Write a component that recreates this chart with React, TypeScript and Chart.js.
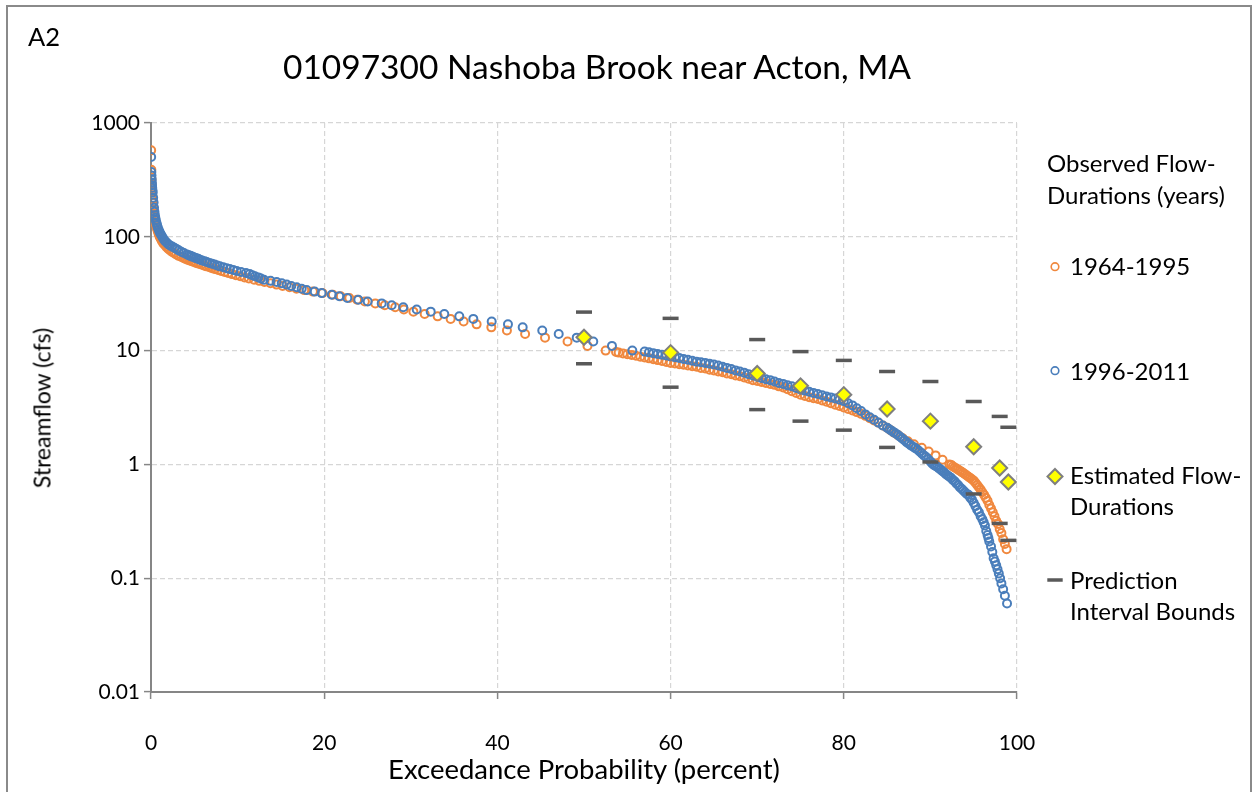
import { useEffect, useRef } from "react";
import { Chart, registerables } from "chart.js";

Chart.register(...registerables);

// Observed flow-duration points, 1964-1995: [exceedance probability (%), streamflow (cfs)]
const observed1964to1995: [number, number][] = [
  [0.02, 575], [0.04, 389], [0.06, 320], [0.08, 290], [0.1, 268], [0.12, 250], [0.15, 232], [0.18, 215],
  [0.22, 200], [0.26, 185], [0.3, 172], [0.35, 160], [0.4, 150], [0.46, 141], [0.52, 133], [0.6, 125],
  [0.68, 118], [0.78, 112], [0.88, 106], [1.0, 100], [1.12, 96], [1.25, 92], [1.4, 88], [1.57, 85],
  [1.75, 82], [1.95, 79], [2.15, 76.5], [2.4, 74], [2.65, 72], [2.9, 70], [3.2, 68], [3.5, 66.5],
  [3.8, 65], [4.0, 64], [4.2, 63], [4.45, 62], [4.7, 61], [4.95, 60], [5.2, 59], [5.5, 58], [5.8, 57],
  [6.1, 56], [6.4, 55], [6.75, 54], [7.05, 53], [7.4, 52], [7.75, 51], [8.1, 50], [8.5, 49], [8.9, 48],
  [9.35, 47], [9.8, 46], [10.3, 45], [10.8, 44], [11.3, 43], [11.9, 42], [12.5, 41], [13.1, 40],
  [13.8, 39], [14.5, 38], [15.2, 37], [16.0, 36], [16.8, 35], [17.7, 34], [18.7, 33], [19.8, 32],
  [21.0, 31], [21.9, 30], [22.9, 29], [23.8, 28], [24.7, 27], [25.9, 26], [27.0, 25], [28.2, 24],
  [29.2, 23], [30.3, 22], [31.6, 21], [33.1, 20], [34.6, 19], [36.1, 18], [37.6, 17], [39.3, 16],
  [41.1, 15], [43.2, 14], [45.5, 13], [48.1, 12], [50.4, 11], [52.5, 10],
  [53.7, 9.72], [54.0, 9.6], [54.5, 9.45], [55.0, 9.3], [55.5, 9.15], [56.0, 9.0], [56.5, 8.85],
  [57.0, 8.7], [57.5, 8.55], [58.0, 8.4], [58.5, 8.25], [59.0, 8.1], [59.5, 7.95], [60.0, 7.8],
  [60.5, 7.7], [61.0, 7.6], [61.5, 7.5], [62.0, 7.4], [62.5, 7.3], [63.0, 7.2], [63.5, 7.05],
  [64.0, 6.95], [64.5, 6.8], [65.0, 6.7], [65.5, 6.55], [66.0, 6.45], [66.5, 6.3], [67.0, 6.2],
  [67.5, 6.05], [68.0, 5.95], [68.5, 5.8], [69.0, 5.65], [69.5, 5.5], [70.0, 5.4], [70.5, 5.3],
  [71.0, 5.2], [71.5, 5.1], [72.0, 5.0], [72.5, 4.85], [73.0, 4.75], [73.5, 4.58], [74.0, 4.4],
  [74.5, 4.25], [75.0, 4.1], [75.5, 4.0], [76.0, 3.9], [76.5, 3.82], [77.0, 3.75], [77.5, 3.65],
  [78.0, 3.55], [78.5, 3.45], [79.0, 3.35], [79.5, 3.26], [80.0, 3.17], [80.5, 3.07], [81.0, 2.98],
  [81.5, 2.88], [82.0, 2.78], [82.5, 2.67], [83.0, 2.55], [83.5, 2.43], [84.0, 2.32], [84.5, 2.2],
  [85.0, 2.1], [85.4, 2.0], [85.8, 1.9], [86.3, 1.8], [86.8, 1.7], [87.4, 1.6], [88.1, 1.5],
  [89.0, 1.4], [89.8, 1.3], [90.6, 1.2], [91.4, 1.1], [92.2, 1.0],
  [92.4, 0.99], [92.6, 0.96], [92.8, 0.94], [93.0, 0.92], [93.2, 0.9], [93.4, 0.88], [93.6, 0.86],
  [93.8, 0.84], [94.0, 0.82], [94.2, 0.8], [94.4, 0.78], [94.6, 0.76], [94.8, 0.74], [95.0, 0.72],
  [95.2, 0.69], [95.4, 0.66], [95.6, 0.63], [95.8, 0.6], [96.0, 0.57], [96.2, 0.54], [96.4, 0.51],
  [96.6, 0.48], [96.8, 0.44], [97.0, 0.41], [97.2, 0.38], [97.4, 0.35], [97.6, 0.32], [97.8, 0.3],
  [98.0, 0.27], [98.2, 0.25], [98.4, 0.22], [98.6, 0.2], [98.8, 0.18],
];

// Observed flow-duration points, 1996-2011
const observed1996to2011: [number, number][] = [
  [0.02, 503], [0.04, 371], [0.06, 345], [0.08, 320], [0.1, 300], [0.12, 284], [0.14, 270], [0.17, 256],
  [0.2, 245], [0.25, 220], [0.3, 200], [0.35, 180], [0.4, 166], [0.45, 155], [0.5, 147], [0.56, 140],
  [0.63, 133], [0.7, 127], [0.78, 121], [0.87, 116], [0.97, 111], [1.08, 107], [1.2, 103], [1.33, 99],
  [1.47, 95], [1.62, 92], [1.8, 89], [2.0, 86], [2.2, 84], [2.45, 82], [2.7, 80], [2.95, 78], [3.2, 76],
  [3.5, 74], [3.8, 72], [4.15, 70], [4.35, 69], [4.55, 68], [4.75, 67], [4.95, 66], [5.2, 65],
  [5.45, 64], [5.65, 63], [5.9, 62], [6.2, 61], [6.45, 60], [6.75, 59], [7.05, 58], [7.35, 57],
  [7.65, 56], [7.95, 55], [8.35, 54], [8.74, 53], [9.1, 52], [9.5, 51], [9.9, 50], [10.4, 49],
  [10.97, 48], [11.4, 47], [11.7, 46], [12.01, 45], [12.4, 44], [12.7, 43], [13.05, 42], [13.8, 41],
  [14.51, 40], [15.1, 39], [15.67, 38], [16.2, 37], [16.82, 36], [17.4, 35], [17.98, 34], [18.9, 33],
  [19.71, 32], [20.87, 31], [21.74, 30], [22.67, 29], [23.94, 28], [25.02, 27], [26.64, 26],
  [27.79, 25], [29.13, 24], [30.68, 23], [32.3, 22], [33.87, 21], [35.6, 20], [37.22, 19],
  [39.34, 18], [41.22, 17], [42.92, 16], [45.18, 15], [47.08, 14], [49.16, 13], [51.07, 12],
  [53.23, 11], [55.58, 10],
  [57.0, 9.8], [57.5, 9.65], [58.0, 9.5], [58.5, 9.35], [59.0, 9.2], [59.5, 9.05], [60.0, 8.9],
  [60.5, 8.75], [61.0, 8.6], [61.5, 8.45], [62.0, 8.3], [62.5, 8.15], [63.0, 8.0], [63.5, 7.9],
  [64.0, 7.8], [64.5, 7.65], [65.0, 7.55], [65.5, 7.4], [66.0, 7.2], [66.5, 7.05], [67.0, 6.9],
  [67.5, 6.7], [68.0, 6.55], [68.5, 6.4], [69.0, 6.2], [69.5, 6.05], [70.0, 5.9], [70.5, 5.75],
  [71.0, 5.6], [71.5, 5.5], [72.0, 5.35], [72.5, 5.2], [73.0, 5.1], [73.5, 4.95], [74.0, 4.85],
  [74.5, 4.7], [75.0, 4.55], [75.5, 4.45], [76.0, 4.35], [76.5, 4.25], [77.0, 4.15], [77.5, 4.05],
  [78.0, 3.95], [78.5, 3.88], [79.0, 3.8], [79.5, 3.7], [80.0, 3.6], [80.5, 3.45], [81.0, 3.3],
  [81.5, 3.12], [82.0, 2.95], [82.5, 2.75], [83.0, 2.6], [83.5, 2.47], [84.0, 2.33], [84.5, 2.2],
  [85.0, 2.1], [85.25, 2.04], [85.5, 1.98], [85.75, 1.92], [86.0, 1.87], [86.25, 1.81], [86.5, 1.75],
  [86.75, 1.69], [87.0, 1.63], [87.25, 1.57], [87.5, 1.52], [87.75, 1.47], [88.0, 1.43], [88.25, 1.39],
  [88.5, 1.35], [88.75, 1.3], [89.0, 1.25], [89.25, 1.2], [89.5, 1.16], [89.75, 1.11], [90.0, 1.06],
  [90.2, 1.02], [90.4, 0.99], [90.6, 0.97], [90.8, 0.95], [91.0, 0.92], [91.2, 0.9], [91.4, 0.87],
  [91.6, 0.85], [91.8, 0.82], [92.0, 0.8], [92.2, 0.78], [92.4, 0.76], [92.6, 0.73], [92.8, 0.71],
  [93.0, 0.68], [93.2, 0.66], [93.4, 0.63], [93.6, 0.61], [93.8, 0.59], [94.0, 0.57], [94.2, 0.55],
  [94.4, 0.54], [94.6, 0.51], [94.8, 0.49], [95.0, 0.46], [95.2, 0.43], [95.4, 0.4], [95.6, 0.38],
  [95.8, 0.35], [96.0, 0.33], [96.15, 0.31], [96.3, 0.29], [96.45, 0.26], [96.6, 0.24], [96.7, 0.225],
  [96.8, 0.21], [97.0, 0.19], [97.15, 0.17], [97.3, 0.15], [97.45, 0.14], [97.6, 0.13], [97.75, 0.12],
  [97.9, 0.11], [98.05, 0.1], [98.2, 0.09], [98.4, 0.08], [98.6, 0.07], [98.85, 0.06],
];

// Regression estimates and their prediction interval bounds
const estimatedPercent = [50, 60, 70, 75, 80, 85, 90, 95, 98, 99];
const estimatedFlow = [13.1, 9.6, 6.3, 4.9, 4.1, 3.07, 2.4, 1.43, 0.93, 0.7];
const upperBound = [21.8, 19.2, 12.5, 9.8, 8.2, 6.55, 5.35, 3.57, 2.64, 2.12];
const lowerBound = [7.66, 4.77, 3.03, 2.4, 2.0, 1.41, 1.05, 0.55, 0.303, 0.215];

// Axis ticks
const yTickValues = [0.01, 0.1, 1, 10, 100, 1000];
const yTickLabels = ["0.01", "0.1", "1", "10", "100", "1000"];
const xTickValues = [0, 20, 40, 60, 80, 100];

const FONT = "Lato, 'Open Sans', sans-serif";
const ORANGE = "#F0883E";
const BLUE = "#4A7EBB";
const AXIS_GRAY = "#868686";

const toPoints = (pairs: [number, number][]) => pairs.map(([x, y]) => ({ x, y }));

function Text(props: {
  x: number;
  capTop: number;
  size: number;
  center?: boolean;
  children: string;
}) {
  const { x, capTop, size, center, children } = props;
  return (
    <div
      style={{
        position: "absolute",
        left: x,
        top: capTop - 0.17 * size,
        fontSize: size,
        lineHeight: 1,
        whiteSpace: "nowrap",
        color: "#000",
        transform: center ? "translateX(-50%)" : undefined,
      }}
    >
      {children}
    </div>
  );
}

export default function App() {
  const canvasRef = useRef<HTMLCanvasElement>(null);

  useEffect(() => {
    const canvas = canvasRef.current;
    if (!canvas) return;

    const bounds = [
      ...estimatedPercent.map((x, i) => ({ x, y: upperBound[i] })),
      ...estimatedPercent.map((x, i) => ({ x, y: lowerBound[i] })),
    ];
    const estimates = estimatedPercent.map((x, i) => ({ x, y: estimatedFlow[i] }));

    const chart = new Chart(canvas, {
      type: "scatter",
      data: {
        datasets: [
          {
            label: "Prediction Interval Bounds",
            data: bounds,
            pointStyle: "line",
            pointRadius: 8,
            pointBorderWidth: 3.5,
            pointBorderColor: "#595959",
            order: 1,
          },
          {
            label: "Estimated Flow-Durations",
            data: estimates,
            pointStyle: "rectRot",
            pointRadius: 7.5,
            pointBorderWidth: 2,
            pointBackgroundColor: "#FFFF00",
            pointBorderColor: "#7F7F7F",
            order: 2,
          },
          {
            label: "1996-2011",
            data: toPoints(observed1996to2011),
            pointStyle: "circle",
            pointRadius: 4,
            pointBorderWidth: 2,
            pointBorderColor: BLUE,
            pointBackgroundColor: "rgba(0,0,0,0)",
            order: 3,
          },
          {
            label: "1964-1995",
            data: toPoints(observed1964to1995),
            pointStyle: "circle",
            pointRadius: 4,
            pointBorderWidth: 2,
            pointBorderColor: ORANGE,
            pointBackgroundColor: "rgba(0,0,0,0)",
            order: 4,
          },
        ],
      },
      options: {
        responsive: false,
        animation: false,
        devicePixelRatio: 1,
        events: [],
        layout: { padding: { left: 0, right: 237, top: 123, bottom: 0 } },
        plugins: {
          legend: { display: false },
          title: { display: false },
          tooltip: { enabled: false },
        },
        scales: {
          x: {
            type: "linear",
            min: 0,
            max: 100,
            afterFit: (scale: any) => {
              scale.height = 100;
            },
            afterBuildTicks: (scale: any) => {
              scale.ticks = xTickValues.map((value) => ({ value }));
            },
            ticks: {
              font: { family: FONT, size: 21 },
              color: "#000",
              padding: 32,
              maxRotation: 0,
              callback: (value: any) => String(value),
            },
            grid: {
              color: "#d6d6d6",
              lineWidth: 1.2,
              tickLength: 7,
              tickColor: AXIS_GRAY,
              tickWidth: 1.5,
            },
            border: { color: AXIS_GRAY, width: 2, dash: [5, 3] },
          },
          y: {
            type: "logarithmic",
            min: 0.01,
            max: 1000,
            afterFit: (scale: any) => {
              scale.width = 151;
            },
            afterBuildTicks: (scale: any) => {
              scale.ticks = yTickValues.map((value) => ({ value }));
            },
            ticks: {
              font: { family: FONT, size: 21 },
              color: "#000",
              padding: 4,
              callback: (value: any) => {
                const i = yTickValues.findIndex(
                  (t) => Math.abs(Math.log10(t) - Math.log10(Number(value))) < 1e-6
                );
                return i >= 0 ? yTickLabels[i] : "";
              },
            },
            grid: {
              color: "#d6d6d6",
              lineWidth: 1.2,
              tickLength: 7,
              tickColor: AXIS_GRAY,
              tickWidth: 1.5,
            },
            border: { color: AXIS_GRAY, width: 2, dash: [5, 3] },
          },
        },
      },
    } as any);

    return () => chart.destroy();
  }, []);

  return (
    <div
      style={{
        position: "absolute",
        left: 0,
        top: 0,
        width: 1254,
        height: 792,
        overflow: "hidden",
        background: "#fff",
        fontFamily: FONT,
      }}
    >
      <div
        style={{
          position: "absolute",
          left: 6,
          top: 5,
          width: 1246,
          height: 820,
          border: "2px solid #8a8a8a",
          boxSizing: "border-box",
        }}
      />
      <canvas
        ref={canvasRef}
        width={1254}
        height={792}
        style={{ position: "absolute", left: 0, top: 0, width: 1254, height: 792 }}
      />

      <Text x={28} capTop={28.3} size={25.5}>A2</Text>
      <Text x={597} capTop={56} size={33.5} center>
        01097300 Nashoba Brook near Acton, MA
      </Text>
      <Text x={584} capTop={760} size={27.5} center>
        Exceedance Probability (percent)
      </Text>
      <div
        style={{
          position: "absolute",
          left: 42,
          top: 408,
          fontSize: 23,
          lineHeight: 1,
          whiteSpace: "nowrap",
          color: "#000",
          transform: "translate(-50%, -50%) rotate(-90deg)",
        }}
      >
        Streamflow (cfs)
      </div>

      <Text x={1047} capTop={155} size={24}>Observed Flow-</Text>
      <Text x={1047} capTop={186.7} size={24}>Durations (years)</Text>
      <Text x={1070} capTop={258.3} size={24}>1964-1995</Text>
      <Text x={1070} capTop={363.3} size={24}>1996-2011</Text>
      <Text x={1070} capTop={466.7} size={24}>Estimated Flow-</Text>
      <Text x={1070} capTop={498.3} size={24}>Durations</Text>
      <Text x={1070} capTop={571.7} size={24}>Prediction</Text>
      <Text x={1070} capTop={603.3} size={24}>Interval Bounds</Text>

      <svg
        width={1254}
        height={792}
        style={{ position: "absolute", left: 0, top: 0, pointerEvents: "none" }}
      >
        <circle cx={1055} cy={266.7} r={3.8} fill="none" stroke={ORANGE} strokeWidth={1.6} />
        <circle cx={1055} cy={370.7} r={3.8} fill="none" stroke={BLUE} strokeWidth={1.6} />
        <polygon
          points="1055,469 1062.5,476.5 1055,484 1047.5,476.5"
          fill="#FFFF00"
          stroke="#7F7F7F"
          strokeWidth={2}
        />
        <line x1={1047.3} y1={580} x2={1062.7} y2={580} stroke="#595959" strokeWidth={3.5} />
      </svg>
    </div>
  );
}
